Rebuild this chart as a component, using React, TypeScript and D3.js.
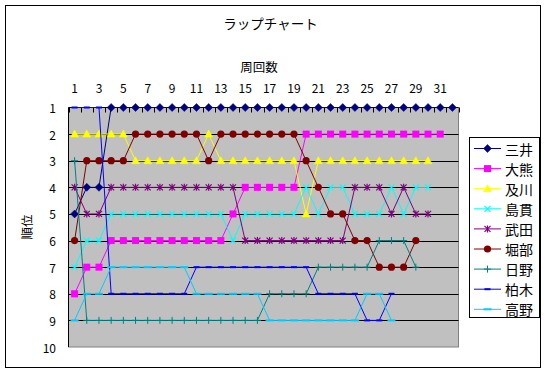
import React from "react";
import * as d3 from "d3";

const laps = [1,2,3,4,5,6,7,8,9,10,11,12,13,14,15,16,17,18,19,20,21,22,23,24,25,26,27,28,29,30,31,32];
const xTickLabels = [1,3,5,7,9,11,13,15,17,19,21,23,25,27,29,31];
const yTickLabels = [1,2,3,4,5,6,7,8,9,10];

const names = ["三井","大熊","及川","島貫","武田","堀部","日野","柏木","高野"];
const mitsui = [5,4,4,1,1,1,1,1,1,1,1,1,1,1,1,1,1,1,1,1,1,1,1,1,1,1,1,1,1,1,1,1];
const okuma = [8,7,7,6,6,6,6,6,6,6,6,6,6,5,4,4,4,4,4,2,2,2,2,2,2,2,2,2,2,2,2];
const oikawa = [2,2,2,2,2,3,3,3,3,3,3,2,3,3,3,3,3,3,3,5,3,3,3,3,3,3,3,3,3,3];
const shimanuki = [7,6,6,5,5,5,5,5,5,5,5,5,5,6,5,5,5,5,5,4,5,4,4,5,5,5,4,5,4,4];
const takeda = [4,5,5,4,4,4,4,4,4,4,4,4,4,4,6,6,6,6,6,6,6,6,6,4,4,4,5,4,5,5];
const horibe = [6,3,3,3,3,2,2,2,2,2,2,3,2,2,2,2,2,2,2,3,4,5,5,6,6,7,7,7,6];
const hino = [3,9,9,9,9,9,9,9,9,9,9,9,9,9,9,9,8,8,8,8,7,7,7,7,7,6,6,6,7];
const kashiwagi = [1,1,1,8,8,8,8,8,8,8,7,7,7,7,7,7,7,7,7,7,8,8,8,8,9,9,8];
const takano = [9,8,8,7,7,7,7,7,7,7,8,8,8,8,8,8,9,9,9,9,9,9,9,9,8,8,9];

const seriesValues = [mitsui, okuma, oikawa, shimanuki, takeda, horibe, hino, kashiwagi, takano];
const colors = ["#000080","#FF00FF","#FFFF00","#00FFFF","#800080","#800000","#008080","#0000FF","#00CCFF"];
const markerTypes = ["diamond","square","triangle","x","star","circle","plus","dash","longdash"];

const FONT = "'Noto Sans CJK JP', 'Noto Sans', sans-serif";

function Marker({ type, color, cx, cy }: { type: string; color: string; cx: number; cy: number }) {
  const t = `translate(${cx},${cy})`;
  switch (type) {
    case "diamond":
      return <path transform={t} d="M0,-4L4,0L0,4L-4,0Z" fill={color} stroke={color} strokeWidth={0.5} />;
    case "square":
      return <rect transform={t} x={-3.5} y={-3.5} width={7} height={7} fill={color} />;
    case "triangle":
      return <path transform={t} d="M0,-4L4,3L-4,3Z" fill={color} stroke={color} strokeWidth={0.5} />;
    case "x":
      return <path transform={t} d="M-3,-3L3,3M-3,3L3,-3" stroke={color} strokeWidth={1.2} fill="none" />;
    case "star":
      return <path transform={t} d="M-3,-3L3,3M-3,3L3,-3M0,-3.5L0,3.5" stroke={color} strokeWidth={1.2} fill="none" />;
    case "circle":
      return <circle cx={cx} cy={cy} r={3.6} fill={color} />;
    case "plus":
      return <path transform={t} d="M0,-3.5L0,3.5M-3.5,0L3.5,0" stroke={color} strokeWidth={1} fill="none" />;
    case "dash":
      return <rect transform={t} x={-3} y={-1} width={6} height={2} fill={color} />;
    case "longdash":
      return <rect transform={t} x={-4} y={-1} width={8} height={2} fill={color} />;
    default:
      return null;
  }
}

export default function App() {
  const W = 549, H = 374;
  const left = 68.5, right = 458.5, top = 107.5, bottom = 347;
  const x = d3.scaleBand<number>().domain(laps).range([left, right]).padding(0);
  const bw = x.bandwidth();
  const cx = (l: number) => (x(l) as number) + bw / 2;
  const y = d3.scaleLinear().domain([1, 10]).range([top, bottom]);

  const line = d3.line<number>()
    .x((_, i) => cx(laps[i]))
    .y((d) => y(d));

  const boundaries = laps.map((l) => x(l) as number).concat([right]);

  const legX = 469.5, legY = 137.5, legW = 70, legH = 180;
  const legStep = 20.1;

  return (
    <svg width={W} height={H} style={{ position: "absolute", left: 0, top: 0, background: "#fff" }} fontFamily={FONT}>
      <rect x={0} y={0} width={W} height={H} fill="#fff" />
      <rect x={5.5} y={5.5} width={535} height={362} fill="#fff" stroke="#000" strokeWidth={1} />

      <text x={270.5} y={23} textAnchor="middle" dominantBaseline="central" fontSize={13.5}>ラップチャート</text>
      <text x={259} y={66.5} textAnchor="middle" dominantBaseline="central" fontSize={12.5}>周回数</text>
      <text transform={`translate(26,227) rotate(-90)`} textAnchor="middle" dominantBaseline="central" fontSize={12.5}>順位</text>

      {/* plot area */}
      <rect x={left} y={top} width={right - left} height={bottom - top} fill="#C0C0C0" stroke="#808080" strokeWidth={1} />
      {yTickLabels.slice(1, 9).map((r) => (
        <line key={"g" + r} x1={left} x2={right} y1={Math.round(y(r)) + 0.5} y2={Math.round(y(r)) + 0.5} stroke="#000" strokeWidth={1} />
      ))}
      <line x1={left} x2={left} y1={top} y2={bottom} stroke="#000" strokeWidth={1} />
      <line x1={left} x2={right} y1={top} y2={top} stroke="#000" strokeWidth={1} />
      {boundaries.map((b, i) => (
        <line key={"t" + i} x1={Math.round(b) + 0.5} x2={Math.round(b) + 0.5} y1={top} y2={top + 5} stroke="#000" strokeWidth={1} />
      ))}
      {xTickLabels.map((l) => (
        <text key={"xl" + l} x={cx(l)} y={87} textAnchor="middle" dominantBaseline="central" fontSize={12}>{l}</text>
      ))}
      {yTickLabels.map((r) => (
        <text key={"yl" + r} x={56} y={y(r)} textAnchor="end" dominantBaseline="central" fontSize={12}>{r}</text>
      ))}

      {/* series */}
      {seriesValues.map((vals, si) => (
        <g key={"s" + si}>
          <path d={line(vals) || ""} fill="none" stroke={colors[si]} strokeWidth={1} />
          {vals.map((v, i) => (
            <Marker key={i} type={markerTypes[si]} color={colors[si]} cx={cx(laps[i])} cy={y(v)} />
          ))}
        </g>
      ))}

      {/* legend */}
      <rect x={legX} y={legY} width={legW} height={legH} fill="#fff" stroke="#000" strokeWidth={1} />
      {names.map((n, i) => {
        const ly = 148.5 + i * legStep;
        return (
          <g key={"lg" + i}>
            <line x1={474} x2={501} y1={ly} y2={ly} stroke={colors[i]} strokeWidth={1} />
            <Marker type={markerTypes[i]} color={colors[i]} cx={487.5} cy={ly} />
            <text x={505} y={ly} dominantBaseline="central" fontSize={14}>{n}</text>
          </g>
        );
      })}
    </svg>
  );
}
